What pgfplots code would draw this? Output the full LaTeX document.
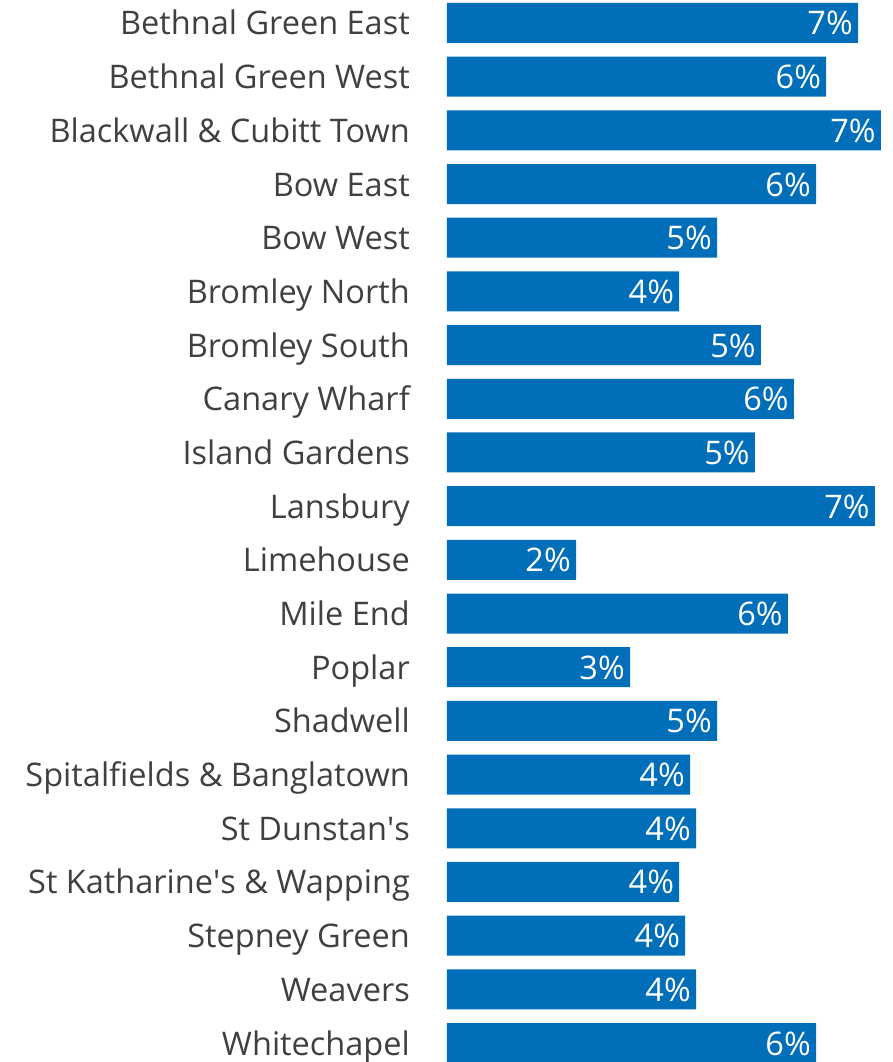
\documentclass[border=0pt]{standalone}
\usepackage{pgfplots}
\pgfplotsset{compat=1.18}
\usepackage{pgfplotstable}
\usepackage{fontspec}
\setmainfont{Open Sans}
\definecolor{barblue}{RGB}{0,110,185}
\definecolor{labgray}{RGB}{64,64,64}
\pgfplotstableread{
idx val lab
0 6.85 7
1 6.32 6
2 7.23 7
3 6.15 6
4 4.50 5
5 3.87 4
6 5.23 5
7 5.78 6
8 5.13 5
9 7.13 7
10 2.15 2
11 5.68 6
12 3.05 3
13 4.50 5
14 4.05 4
15 4.15 4
16 3.87 4
17 3.97 4
18 4.15 4
19 6.15 6
}\datatable
\begin{document}
\begin{tikzpicture}
\begin{axis}[
  name=ax,
  scale only axis,
  width=446pt, height=1062pt,
  xmin=0, xmax=7.433,
  ymin=-0.428, ymax=19.354,
  y dir=reverse,
  xbar, bar width=40pt,
  axis line style={draw=none},
  major tick length=0pt,
  xtick=\empty,
  ytick={0,...,19},
  yticklabels={Bethnal Green East, Bethnal Green West, Blackwall \& Cubitt Town, Bow East, Bow West, Bromley North, Bromley South, Canary Wharf, Island Gardens, Lansbury, Limehouse, Mile End, Poplar, Shadwell, Spitalfields \& Banglatown, St Dunstan\textquotesingle s, St Katharine\textquotesingle s \& Wapping, Stepney Green, Weavers, Whitechapel},
  yticklabel style={font=\fontsize{32.5}{38}\selectfont, text=labgray, anchor=base east, inner sep=0pt, xshift=-37pt, yshift=-12pt},
  point meta=explicit symbolic,
  nodes near coords={\pgfplotspointmeta\%},
  nodes near coords style={font=\fontsize{32.5}{38}\selectfont, text=white, anchor=base east, inner sep=0pt, xshift=-5pt, yshift=-12pt},
]
\addplot[fill=barblue, draw=none] table[x=val, y=idx, meta=lab] {\datatable};
\end{axis}
\pgfresetboundingbox
\path[use as bounding box] ([xshift=-447pt]ax.south west) rectangle (ax.north east);
\end{tikzpicture}
\end{document}
